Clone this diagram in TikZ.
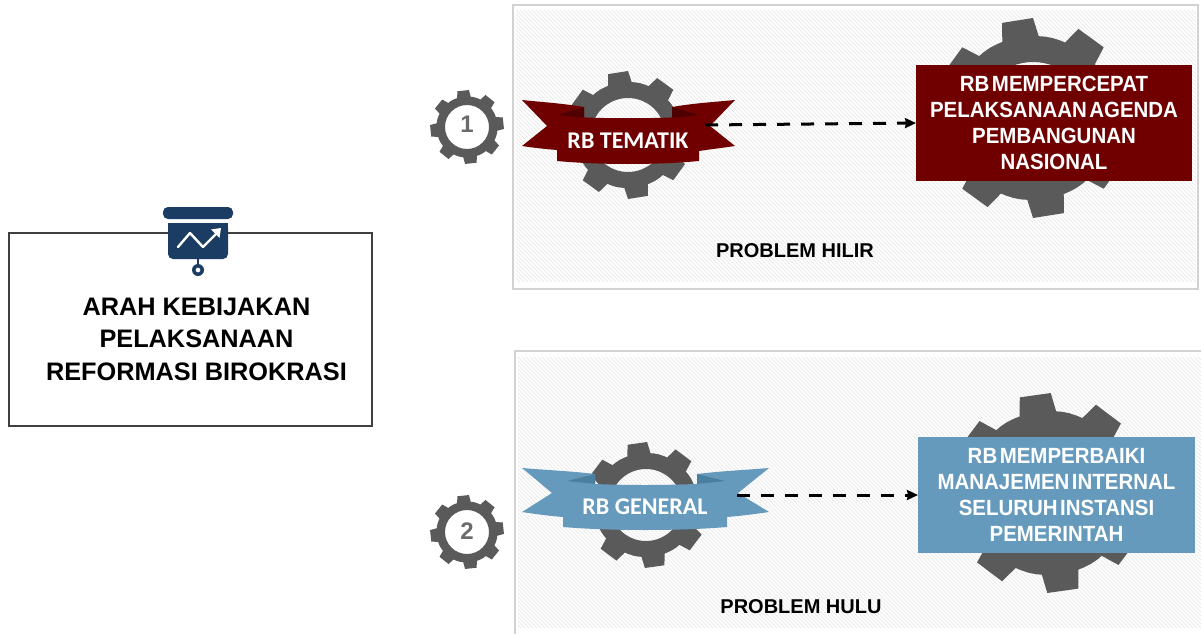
\documentclass[tikz,border=0pt]{standalone}
\usepackage{fontspec}
\setmainfont{Liberation Sans}
\newfontfamily\ribbonfont{Carlito}
\newfontfamily\boxfont[FakeStretch=0.93]{Liberation Sans}
\usetikzlibrary{arrows.meta}
\definecolor{gearc}{HTML}{5A5A5A}
\definecolor{maroonc}{HTML}{700000}
\definecolor{maroond}{HTML}{4E0000}
\definecolor{bluec}{HTML}{659ABD}
\definecolor{blued}{HTML}{4A7F9F}
\definecolor{navyc}{HTML}{1B3D63}
\definecolor{borderc}{HTML}{D2D2D2}
\definecolor{hatchc}{HTML}{EBEBEB}
\newcommand{\boxgap}{\hspace{2.5pt}}
\tikzset{
  panelline/.style={draw=borderc,line width=2pt},
  hatchline/.style={draw=hatchc,line width=0.8pt},
  mainbox/.style={draw=black!75,line width=1.6pt,fill=white,outer sep=0pt},
  headtext/.style={font=\bfseries\fontsize{25.3}{32.5}\selectfont,align=center,text=black},
  problemtext/.style={font=\bfseries\fontsize{20}{24}\selectfont,text=black},
  boxtext/.style={font=\boxfont\bfseries\fontsize{22}{26}\selectfont,align=center,text=white,text width=276pt,minimum height=116pt,inner sep=0pt,outer sep=0pt},
  ribbontext/.style={font=\ribbonfont\bfseries\fontsize{24}{28}\selectfont,text=white},
  numtext/.style={font=\bfseries\fontsize{24}{24}\selectfont,text=gearc!90},
  dasharrow/.style={draw=black,line width=3pt,dash pattern=on 13pt off 11pt,-{Stealth[length=11pt,width=10pt,inset=1pt]}},
}
\newcommand{\gearicon}[6]{% x,y,R,root,hole,rot
  \begin{scope}[shift={(#1,#2)}]
    \fill[gearc,even odd rule]
      (#6-13:#4)
      \foreach \k [evaluate=\k as \a using #6+45*\k,
                   evaluate=\k as \b using #6+45*\k+22.5,
                   evaluate=\k as \c using #6+45*\k+32,
                   evaluate=\k as \d using #6+45*\k+17] in {0,...,7} {
        -- (\a-9:#3) -- (\a+9:#3) -- (\a+13:#4) -- (\d:#4*1.003) -- (\b:#4*1.004) -- (\c-4:#4*1.002) -- (\c:#4)
      } -- cycle
      (0,0) circle (#5);
  \end{scope}
}
\newcommand{\hatchregion}[4]{% x0,y0,x1,y1
  \begin{scope}
    \clip (#1,#2) rectangle (#3,#4);
    \foreach \k in {-300,-296,...,700} {
      \draw[hatchline] (#1+\k,#2) -- (#1+\k+290,#2+290);
    }
  \end{scope}
}
\begin{document}
\begin{tikzpicture}[x=1pt,y=-1pt]
\useasboundingbox (0,0) rectangle (1201,634);
\clip (0,0) rectangle (1201,634);

% panels
\hatchregion{516}{10}{1196}{281}
\draw[panelline] (513,5) rectangle (1198,289);
\hatchregion{518}{357}{1201}{627}
\draw[panelline] (1201,351) -- (515,351) -- (515,634);

% big gears
\gearicon{1033}{118}{100}{82}{56}{-99}
\gearicon{1049}{493}{100}{82}{56}{-98}
% middle gears
\gearicon{628}{135}{64}{53}{37}{-99}
\gearicon{646}{505}{63}{52}{36}{-98}
% small numbered gears
\gearicon{467}{127}{37}{30.5}{22}{-96}
\gearicon{467}{532}{37}{30.5}{22}{-96}
\node[numtext] (num1) at (467,124) {1};
\node[numtext] (num2) at (467,531) {2};

% ribbon 1
\fill[maroonc] (584,107) .. controls (560,103) and (540,102) .. (522,100) -- (547,126) -- (522,146)
  .. controls (535,148) and (545,149) .. (557,150) -- (584,150) -- cycle;
\fill[maroonc] (672,107) .. controls (695,103) and (715,102) .. (735,100) -- (710,126) -- (735,146)
  .. controls (722,148) and (712,149) .. (699,151) -- (672,150) -- cycle;
\fill[maroond] (558,115) -- (584,107) -- (584,118) -- cycle;
\fill[maroond] (699,115) -- (672,107) -- (672,118) -- cycle;
\fill[maroonc] (557,116) .. controls (600,119) and (656,119) .. (699,116) -- (699,161)
  .. controls (656,165) and (600,165) .. (557,161) -- cycle;
\node[ribbontext] (rb1) at (628,141) {RB TEMATIK};

% ribbon 2
\fill[bluec] (595,474) .. controls (570,471) and (545,470) .. (522,468) -- (552,493) -- (522,512)
  .. controls (535,514) and (550,516) .. (563,517) -- (595,517) -- cycle;
\fill[bluec] (697,474) .. controls (722,471) and (745,470) .. (769,468) -- (738,493) -- (769,512)
  .. controls (755,514) and (740,516) .. (727,517) -- (697,517) -- cycle;
\fill[blued] (567,481) -- (595,474) -- (595,484) -- cycle;
\fill[blued] (725,481) -- (697,474) -- (697,484) -- cycle;
\fill[bluec] (563,482) .. controls (610,486) and (680,486) .. (727,482) -- (727,527)
  .. controls (680,531) and (610,531) .. (563,527) -- cycle;
\node[ribbontext] (rb2) at (645,507) {RB GENERAL};

% result boxes
\node[boxtext,fill=maroonc,anchor=north west] (box1) at (916,65) {RB\boxgap MEMPERCEPAT\\PELAKSANAAN\boxgap AGENDA\\PEMBANGUNAN\\NASIONAL};
\node[boxtext,fill=bluec,anchor=north west,text width=277pt] (box2) at (918,437) {RB\boxgap MEMPERBAIKI\\MANAJEMEN\boxgap INTERNAL\\SELURUH\boxgap INSTANSI\\PEMERINTAH};

% connectors
\coordinate (s1) at (705,125);
\coordinate (s2) at (737,495);
\draw[dasharrow] (s1) -- (box1.west);
\draw[dasharrow] (s2) -- (box2.west);

% problem labels
\node[problemtext] (p1) at (795,251) {PROBLEM HILIR};
\node[problemtext] (p2) at (801,607) {PROBLEM HULU};

% main box
\node[mainbox,minimum width=363pt,minimum height=193pt,anchor=north west,inner sep=0pt] (main) at (9,233) {};
\node[headtext] (head) at (196.5,339) {ARAH KEBIJAKAN\\PELAKSANAAN\\REFORMASI BIROKRASI};

% icon
\fill[navyc,rounded corners=5pt] (163,207) rectangle (233,219);
\fill[navyc,rounded corners=5pt] (168,223) -- (168,259) -- (228,259) -- (228,223) -- cycle;
\fill[navyc] (168,223) rectangle (228,235);
\fill[navyc] (196.8,259) rectangle (199.2,266);
\fill[navyc,even odd rule] (198,270) circle (6) (198,270) circle (2.5);
\draw[white,line width=2.4pt,line cap=round,line join=round] (178,247) -- (190,233) -- (203,247) -- (217,233);
\fill[white] (221,228) -- (211,229.5) -- (219.5,238) -- cycle;
\end{tikzpicture}
\end{document}
